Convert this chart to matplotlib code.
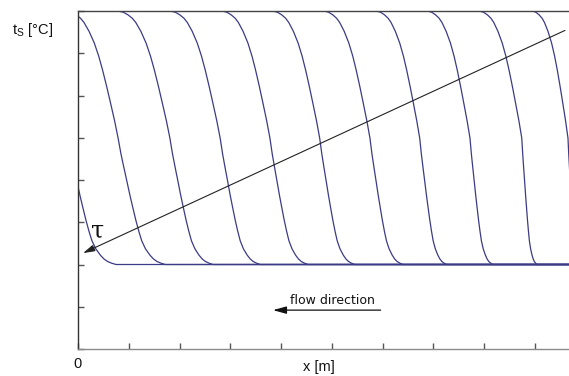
import numpy as np
import matplotlib
matplotlib.use("Agg")
import matplotlib.pyplot as plt

# profile of one front (upper half and lower half)
upper_dx = [-1.0, -0.93, -0.865, -0.78, -0.70, -0.635, -0.54, -0.442,
            -0.36, -0.288, -0.21, -0.135, -0.065, 0.0]
upper_t = [8.00, 7.99, 7.97, 7.91, 7.83, 7.73, 7.52, 7.24,
           6.93, 6.60, 6.20, 5.79, 5.40, 4.99]
lower_dx = [0.0, 0.06, 0.125, 0.19, 0.25, 0.315, 0.375, 0.44,
            0.5, 0.58, 0.675, 0.75, 0.825, 0.91, 1.0]
lower_t = [4.99, 4.62, 4.28, 3.95, 3.64, 3.33, 3.05, 2.78,
           2.56, 2.37, 2.22, 2.13, 2.07, 2.03, 2.00]

# front positions (x where t = 5) and widths above / below that point
centers = [-0.2, 0.79, 1.81, 2.80, 3.78, 4.76, 5.75, 6.73, 7.72, 8.74, 9.65]
upper_w = [1.06, 1.06, 1.06, 1.02, 0.98, 0.96, 0.94, 0.89, 0.87, 0.87, 0.73]
lower_w = [0.95, 0.93, 0.85, 0.79, 0.75, 0.69, 0.65, 0.53, 0.45, 0.30, 0.24]

t_low = 2.0
t_high = 8.0
x_max = 9.67

fig = plt.figure(figsize=(5.69, 3.76), dpi=100)
ax = fig.add_axes([78 / 569, 27 / 376, 491 / 569, 338 / 376])

line_col = "#3b3b86"
for c, wu, wl in zip(centers, upper_w, lower_w):
    xs = [c + d * wu for d in upper_dx] + [c + d * wl for d in lower_dx[1:]]
    ts = upper_t + lower_t[1:]
    xs = [c - wu - 2] + xs + [x_max + 1]
    ts = [t_high] + ts + [t_low]
    ax.plot(xs, ts, color=line_col, lw=0.9, solid_joinstyle="round")

ax.set_xlim(0, x_max)
ax.set_ylim(0, t_high)

ax.spines["right"].set_visible(False)
ax.spines["top"].set_color("#444444")
ax.spines["left"].set_color("#333333")
ax.spines["bottom"].set_color("#8a8a8a")
for s in ax.spines.values():
    s.set_linewidth(1.0)

ax.set_xticks(np.arange(0, 10))
ax.set_yticks(np.arange(0, 9))
ax.tick_params(direction="in", length=4, width=1.0, colors="#555555",
               labelleft=False, labelbottom=False)
ax.text(0, -0.18, "0", ha="center", va="top", fontsize=10.5,
        family="Liberation Sans", color="#111111")

ax.text(-0.9, 7.55, r"t$_\mathregular{S}$ [°C]", ha="center", va="center",
        fontsize=10.5, family="Liberation Sans", color="#111111")
ax.text(x_max / 2 - 0.1, -0.25, "x [m]", ha="center", va="top", fontsize=10.5,
        family="Liberation Sans", color="#111111")

# time arrow
ax.annotate("", xy=(0.10, 2.27), xytext=(9.59, 7.54),
            arrowprops=dict(arrowstyle="-|>,head_length=0.7,head_width=0.2",
                            color="#222222", lw=0.8, shrinkA=0, shrinkB=0))
ax.text(0.38, 2.8, "τ", ha="center", va="center", fontsize=17,
        family="DejaVu Serif", color="#111111")

# flow direction
ax.annotate("", xy=(3.84, 0.92), xytext=(5.96, 0.92),
            arrowprops=dict(arrowstyle="-|>,head_length=0.8,head_width=0.22",
                            color="#111111", lw=0.9, shrinkA=0, shrinkB=0))
ax.text(5.02, 1.14, "flow direction", ha="center", va="center", fontsize=9,
        family="DejaVu Sans", color="#111111")

fig.savefig("out.png", dpi=100)
